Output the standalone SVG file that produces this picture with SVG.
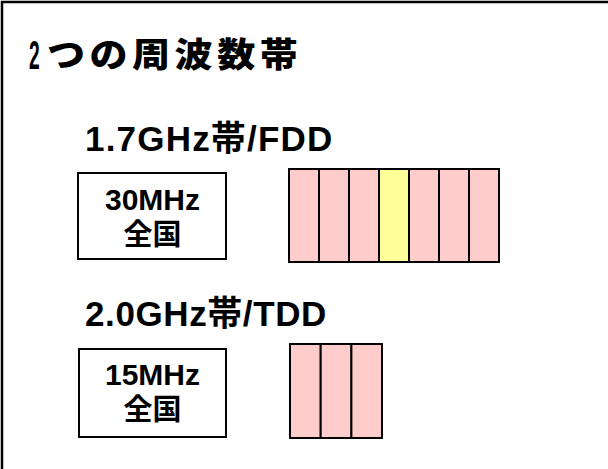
<svg xmlns="http://www.w3.org/2000/svg" width="608" height="469" viewBox="0 0 608 469">
<style>
.frame{fill:none;stroke:#000;stroke-width:2.5}
.box{fill:#fff;stroke:#000;stroke-width:2}
.ch{fill:#ffcccc;stroke:#000;stroke-width:2}
.chy{fill:#ffff99;stroke:#000;stroke-width:2}
.t{font-family:"Liberation Sans","Noto Sans CJK JP",sans-serif;font-weight:bold;fill:#000}
.title{font-family:"Noto Sans CJK JP",sans-serif;font-weight:900;fill:#000}
</style>
<rect x="0" y="0" width="608" height="469" fill="#fff"/>
<path class="frame" d="M2,469 V2 H608"/>
<g id="title">
<text class="t" font-size="40" transform="translate(29,69) scale(0.48,1)">2</text>
<text class="title" font-size="34" letter-spacing="4" transform="translate(47,67) scale(1.12,1)">つの周波数帯</text>
</g>
<g id="band1-label"><text class="t" x="85" y="151" font-size="35" letter-spacing="1.2">1.7GHz帯/FDD</text></g>
<g id="band1-box">
<rect class="box" x="78" y="173" width="148" height="86"/>
<text class="t" x="152.5" y="210" font-size="30" text-anchor="middle">30MHz</text>
<text class="t" x="152.5" y="245" font-size="29" text-anchor="middle">全国</text>
</g>
<g id="band1-channels">
<rect class="ch" x="289" y="169" width="30" height="93"/>
<rect class="ch" x="319" y="169" width="30" height="93"/>
<rect class="ch" x="349" y="169" width="30" height="93"/>
<rect class="chy" x="379" y="169" width="30" height="93"/>
<rect class="ch" x="409" y="169" width="30" height="93"/>
<rect class="ch" x="439" y="169" width="30" height="93"/>
<rect class="ch" x="469" y="169" width="30" height="93"/>
</g>
<g id="band2-label"><text class="t" x="85" y="326" font-size="35" letter-spacing="0.6">2.0GHz帯/TDD</text></g>
<g id="band2-box">
<rect class="box" x="79" y="349" width="147" height="88"/>
<text class="t" x="152.5" y="385" font-size="30" text-anchor="middle">15MHz</text>
<text class="t" x="152.5" y="420" font-size="29" text-anchor="middle">全国</text>
</g>
<g id="band2-channels">
<rect class="ch" x="290" y="344" width="30.7" height="94"/>
<rect class="ch" x="320.7" y="344" width="30.7" height="94"/>
<rect class="ch" x="351.4" y="344" width="30.6" height="94"/>
</g>
<g id="connectors"></g>
</svg>
